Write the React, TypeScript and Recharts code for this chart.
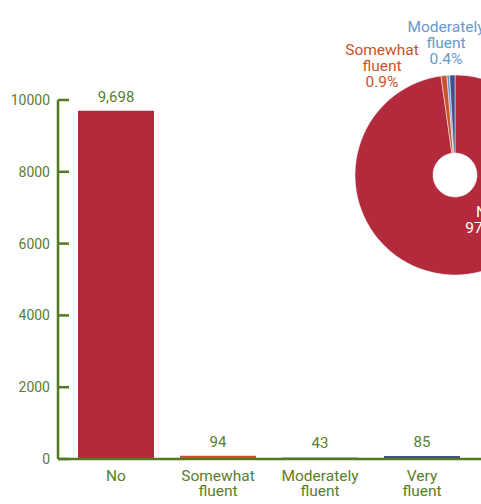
import React from "react";
import { BarChart, Bar, XAxis, YAxis, LabelList, Cell, PieChart, Pie } from "recharts";

const categories = ["No", "Somewhat fluent", "Moderately fluent", "Very fluent"];
const counts = [9698, 94, 43, 85];
const yTicks = [0, 2000, 4000, 6000, 8000, 10000];
const colors = ["#B22A3B", "#C9522A", "#6A98CC", "#434F8C"];
const barColors = ["#B22A3B", "#C9522A", "#5E8FBE", "#434F8C"];

const GREEN = "#5A7E2C";
const AXIS = "#54791F";
const FONT = "Roboto, sans-serif";

const data = categories.map((name, i) => ({ name, value: counts[i] }));
const total = counts.reduce((a, b) => a + b, 0);

const YTick = (props: any) => {
  const { x, y, payload } = props;
  return (
    <g>
      <line x1={x + 8} x2={x + 19} y1={y} y2={y} stroke={AXIS} strokeWidth={2.5} />
      <text x={x} y={y} dy={5} textAnchor="end" fill={GREEN} fontSize={14} fontFamily={FONT}>
        {payload.value}
      </text>
    </g>
  );
};

const XTick = (props: any) => {
  const { x, y, payload } = props;
  const words = String(payload.value).split(" ");
  return (
    <text x={x} y={y} textAnchor="middle" fill={GREEN} fontSize={15.5} fontFamily={FONT}>
      {words.map((w, i) => (
        <tspan key={i} x={x} dy={i === 0 ? 22 : 15}>
          {w}
        </tspan>
      ))}
    </text>
  );
};

const labelPlacement: Record<number, { dx: number; dy: number; fill: string } | null> = {
  0: { dx: 31, dy: 37, fill: "#ffffff" },
  1: { dx: -73, dy: -125, fill: colors[1] },
  2: { dx: -9, dy: -148, fill: colors[2] },
  3: null,
};

const PieLabel = (props: any) => {
  const { cx, cy, index, value, name } = props;
  const p = labelPlacement[index];
  if (!p) return null;
  const pct = ((value / total) * 100).toFixed(1) + "%";
  const lines = [...String(name).split(" "), pct];
  return (
    <text
      x={cx + p.dx}
      y={cy + p.dy}
      textAnchor="middle"
      fill={p.fill}
      fontSize={15.5}
      fontFamily={FONT}
    >
      {lines.map((l, i) => (
        <tspan key={i} x={cx + p.dx} dy={i === 0 ? 5 : 16}>
          {l}
        </tspan>
      ))}
    </text>
  );
};

export default function App() {
  return (
    <div style={{ position: "absolute", left: 0, top: 0, width: 481, height: 504, overflow: "hidden", background: "#fff" }}>
      <div style={{ position: "absolute", left: 0, top: 0 }}>
        <BarChart width={481} height={504} data={data} margin={{ top: 100, right: 0, left: 0, bottom: 0 }}>
          <XAxis
            dataKey="name"
            height={45}
            padding={{ left: 7, right: 8 }}
            axisLine={{ stroke: AXIS, strokeWidth: 2.5 }}
            tickLine={false}
            tickSize={0}
            tickMargin={0}
            interval={0}
            tick={<XTick />}
          />
          <YAxis
            width={58}
            domain={[0, 10000]}
            ticks={yTicks}
            axisLine={{ stroke: AXIS, strokeWidth: 2.5 }}
            tickLine={false}
            tickSize={0}
            tickMargin={8}
            tick={<YTick />}
          />
          <Bar dataKey="value" barSize={76} isAnimationActive={false}>
            {data.map((d, i) => (
              <Cell key={d.name} fill={barColors[i]} />
            ))}
            <LabelList
              dataKey="value"
              position="top"
              offset={9}
              fill={GREEN}
              fontSize={15}
              fontFamily={FONT}
              formatter={(v: any) => Number(v).toLocaleString("en-US")}
            />
          </Bar>
        </BarChart>
      </div>
      <div style={{ position: "absolute", left: 0, top: 0 }}>
        <PieChart width={481} height={504} margin={{ top: 0, right: 0, bottom: 0, left: 0 }}>
          <Pie
            data={data}
            dataKey="value"
            nameKey="name"
            cx={455}
            cy={175}
            outerRadius={100}
            innerRadius={22}
            startAngle={90}
            endAngle={-270}
            stroke="#ffffff"
            strokeWidth={0.5}
            labelLine={false}
            label={<PieLabel />}
            isAnimationActive={false}
          >
            {data.map((d, i) => (
              <Cell key={d.name} fill={colors[i]} />
            ))}
          </Pie>
        </PieChart>
      </div>
    </div>
  );
}
